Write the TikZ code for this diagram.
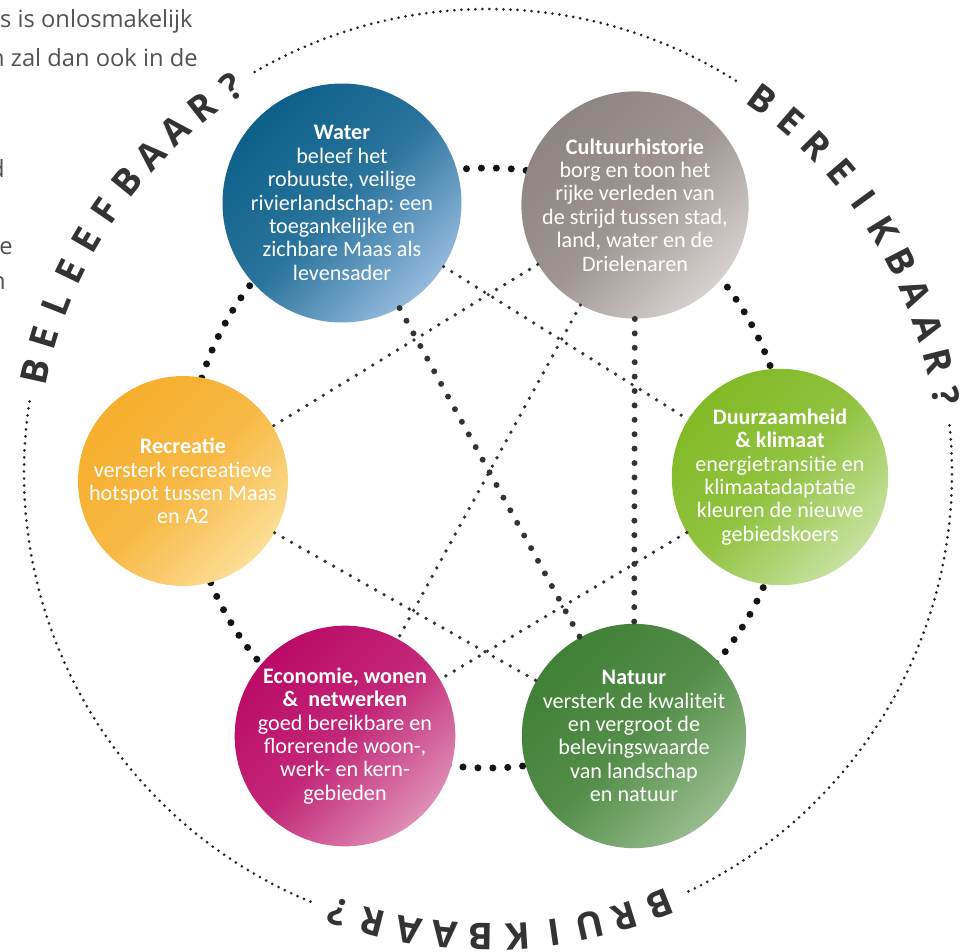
\documentclass[tikz,border=0pt]{standalone}
\usepackage{fontspec}
\setmainfont{Open Sans}
\newfontfamily\bubblefont{Carlito}
\newfontfamily\ringfont{Open Sans}
\usetikzlibrary{calc}
\frenchspacing

\definecolor{waterc}{RGB}{12,96,138}
\definecolor{waterl}{RGB}{150,186,222}
\definecolor{cultc}{RGB}{142,132,129}
\definecolor{cultl}{RGB}{214,209,207}
\definecolor{duurc}{RGB}{130,186,38}
\definecolor{duurl}{RGB}{200,226,160}
\definecolor{recc}{RGB}{246,174,45}
\definecolor{recl}{RGB}{252,222,150}
\definecolor{econc}{RGB}{187,10,102}
\definecolor{econl}{RGB}{222,142,182}
\definecolor{natc}{RGB}{64,128,54}
\definecolor{natl}{RGB}{152,188,142}
\definecolor{dotgray}{RGB}{51,51,51}

\begin{document}
\begin{tikzpicture}[x=0.02cm,y=0.02cm,
		bubble/.style={circle,minimum size=4.2cm,inner sep=0pt,align=center,text=white,
			font=\bubblefont\fontsize{12.6}{13.3}\selectfont},
		tint/.style 2 args={top color=#1,bottom color=#2,middle color=#1!78!#2,shading angle=45},
		ringdots/.style={draw=black!85,line width=1.7pt,line cap=round,dash pattern=on 0pt off 4pt},
		hexdots/.style={draw=black!92,line width=4pt,line cap=round,dash pattern=on 0pt off 8.5pt},
		middots/.style={draw=dotgray,line width=3.4pt,line cap=round,dash pattern=on 0pt off 8.2pt},
		smalldots/.style={draw=dotgray,line width=2.1pt,line cap=round,dash pattern=on 0pt off 5.5pt},
		ringletter/.style={text=dotgray,font=\ringfont\bfseries\fontsize{21}{21}\selectfont,inner sep=0pt},
		bodytext/.style={text=black!68,font=\fontsize{13.5}{13.5}\selectfont,inner sep=0pt,anchor=base east}]
	\useasboundingbox (0,0) rectangle (970,951);
	\clip (0,0) rectangle (970,951);
	\node[bodytext] (line1) at (193,923) {s is onlosmakelijk};
	\node[bodytext] (line2) at (198,884) {n zal dan ook in de};
	\node[bodytext] (line3) at (5,773) {d};
	\node[bodytext] (line4) at (13,696) {e};
	\node[bodytext] (line5) at (6,661) {n};
	\coordinate (mid) at (488,478);
	\coordinate (hub) at (488,483);
	\draw[ringdots] ($(mid)+(120.2:464)$) arc[start angle=120.2,end angle=57.3,radius=464];
	\draw[ringdots] ($(mid)+(5.9:464)$) arc[start angle=5.9,end angle=-64.7,radius=464];
	\draw[ringdots] ($(mid)+(247.5:464)$) arc[start angle=247.5,end angle=171,radius=464];
	\foreach \ch [count=\i from 0] in {B,E,L,E,E,F,B,A,A,R,?}
		\node[ringletter,rotate=77.4-4.38*\i] (bel\i) at ($(mid)+({167.4-4.38*\i}:464)$) {\ch};
	\foreach \ch [count=\i from 0] in {B,E,R,E,I,K,B,A,A,R,?}
		\node[ringletter,rotate=-36.3-4.42*\i] (ber\i) at ($(mid)+({53.7-4.42*\i}:464)$) {\ch};
	\foreach \ch [count=\i from 0] in {B,R,U,I,K,B,A,A,R,?}
		\node[ringletter,rotate=201.7-4.51*\i] (bru\i) at ($(mid)+({291.7-4.51*\i}:464)$) {\ch};
	\draw[hexdots] (hub) circle[radius=300];
	\node[bubble,tint={waterc}{waterl}] (water) at (342,748)
		{\textbf{Water}\\beleef het\\robuuste, veilige\\rivierlandschap: een\\toegankelijke en\\zichbare Maas als\\levensader};
	\node[bubble,tint={cultc}{cultl}] (cultuur) at (635,746)
		{\textbf{Cultuurhistorie}\\borg en toon het\\rijke verleden van\\de strijd tussen stad,\\land, water en de\\Drielenaren};
	\node[bubble,minimum size=4.05cm,tint={duurc}{duurl}] (duurzaam) at (780,474)
		{\textbf{Duurzaamheid}\\\textbf{\& klimaat}\\energietransitie en\\klimaatadaptatie\\kleuren de nieuwe\\gebiedskoers};
	\node[bubble,tint={recc}{recl}] (recreatie) at (183,470)
		{\textbf{Recreatie}\\versterk recreatieve\\hotspot tussen Maas\\en A2};
	\node[bubble,minimum size=4.05cm,tint={econc}{econl}] (economie) at (345,215)
		{\textbf{Economie, wonen}\\\textbf{\&\ \ netwerken}\\goed bereikbare en\\florerende woon-,\\werk- en kern-\\gebieden};
	\node[bubble,tint={natc}{natl}] (natuur) at (634,215)
		{\textbf{Natuur}\\versterk de kwaliteit\\en vergroot de\\belevingswaarde\\van landschap\\en natuur};
	\draw[smalldots] (water) -- (duurzaam);
	\draw[middots] (water) -- (natuur);
	\draw[smalldots] (cultuur) -- (recreatie);
	\draw[smalldots] (cultuur) -- (economie);
	\draw[middots] (cultuur) -- (natuur);
	\draw[smalldots] (recreatie) -- (natuur);
	\draw[smalldots] (duurzaam) -- (economie);
\end{tikzpicture}
\end{document}
